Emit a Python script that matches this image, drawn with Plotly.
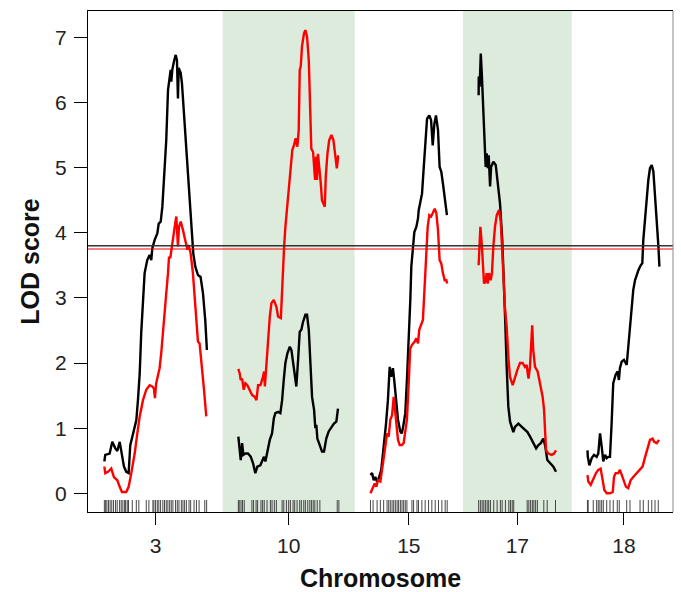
import plotly.graph_objects as go

# ---------------- data ----------------
chromosomes = ["3", "10", "15", "17", "18"]
chrom_lengths = [81.5, 80, 61, 61.5, 58]   # cM
gap = 25                                   # cM between chromosomes
shaded_chroms = ["10", "17"]
thresholds_black = 3.80
thresholds_red = 3.75

pos_black = {
    "3": [0, 0.7, 4.2, 6.3, 8.7, 10.3, 12.2, 14.0, 15.6, 17.4, 19.3, 20.6, 22.7, 25.4, 26.7, 28.1, 29.3, 30.7, 32.0, 34.1, 36.0, 37.3, 38.1, 40.0, 42.1, 43.2, 44.8, 46.1, 47.4, 49.2, 50.6, 51.9, 52.7, 53.2, 54.0, 55.3, 56.7, 57.7, 58.5, 59.1, 60.7, 61.7, 63.3, 65.1, 67.0, 69.1, 70.7, 72.3, 74.4, 76.5, 78.4, 80.2, 81.5],
    "10": [0, 0.3, 1.9, 3.0, 4.0, 5.6, 7.7, 9.9, 11.7, 13.5, 15.1, 17.5, 19.1, 20.4, 21.5, 23.1, 25.0, 26.8, 28.2, 29.4, 31.6, 33.4, 34.8, 36.1, 37.4, 39.0, 40.9, 42.2, 43.5, 44.9, 46.1, 47.5, 48.8, 50.1, 51.4, 53.3, 54.6, 56.0, 57.2, 58.6, 60.2, 61.2, 62.0, 62.8, 64.7, 66.5, 68.1, 69.9, 71.8, 73.9, 76.0, 77.9, 79.2],
    "15": [0, 1.3, 2.6, 3.9, 5.2, 6.6, 8.6, 10.5, 12.4, 13.9, 15.3, 16.5, 17.9, 18.9, 20.3, 21.9, 23.7, 25.0, 26.4, 27.7, 29.0, 30.4, 31.7, 32.5, 33.6, 34.9, 36.5, 37.8, 38.4, 39.7, 41.0, 42.4, 43.6, 45.0, 46.8, 48.2, 49.5, 50.8, 52.1, 53.7, 55.0, 56.3, 57.6, 59.5, 60.8],
    "17": [0, 0.1, 0.8, 1.7, 2.5, 3.3, 4.3, 5.6, 6.4, 7.2, 8.0, 9.1, 9.9, 11.7, 13.6, 15.2, 17.0, 18.8, 20.2, 21.2, 22.3, 23.6, 25.0, 26.3, 27.6, 28.9, 31.6, 34.3, 36.9, 38.8, 40.9, 43.0, 45.7, 47.5, 49.4, 51.4, 52.8, 54.6, 56.8, 59.4, 61.5],
    "18": [0, 0.3, 1.5, 3.4, 5.2, 7.3, 8.6, 10.0, 11.3, 12.6, 14.0, 15.3, 16.6, 17.9, 19.2, 20.5, 22.4, 24.0, 25.0, 25.8, 27.2, 29.0, 31.2, 32.4, 33.8, 35.1, 36.4, 37.8, 39.1, 40.4, 42.3, 43.6, 44.4, 45.8, 47.1, 48.4, 49.7, 51.1, 52.4, 53.7, 55.1, 56.4, 57.2],
}
lod_black = {
    "3": [0.49, 0.59, 0.61, 0.79, 0.69, 0.65, 0.79, 0.61, 0.41, 0.33, 0.31, 0.74, 0.92, 1.12, 1.43, 1.84, 2.46, 2.97, 3.38, 3.58, 3.66, 3.58, 3.76, 3.89, 3.99, 4.14, 4.17, 4.40, 4.81, 5.42, 6.19, 6.39, 6.50, 6.32, 6.50, 6.63, 6.73, 6.65, 6.06, 6.53, 6.45, 6.29, 5.83, 5.27, 4.75, 4.09, 3.68, 3.48, 3.35, 3.32, 3.07, 2.66, 2.20],
    "10": [0.87, 0.82, 0.51, 0.77, 0.59, 0.61, 0.61, 0.56, 0.46, 0.31, 0.41, 0.43, 0.49, 0.56, 0.49, 0.67, 0.82, 0.92, 1.15, 1.23, 1.25, 1.23, 1.43, 1.74, 2.00, 2.15, 2.25, 2.20, 2.00, 1.79, 1.64, 2.05, 2.48, 2.51, 2.63, 2.74, 2.74, 2.51, 2.05, 1.48, 1.28, 1.00, 1.05, 0.84, 0.74, 0.64, 0.64, 0.84, 0.95, 1.02, 1.07, 1.10, 1.30],
    "15": [0.28, 0.31, 0.20, 0.25, 0.18, 0.23, 0.36, 0.67, 1.07, 1.43, 1.94, 1.79, 1.92, 1.74, 1.43, 1.13, 0.95, 0.92, 1.07, 1.23, 1.74, 2.30, 2.97, 3.48, 3.79, 4.01, 4.09, 4.22, 4.35, 4.50, 4.60, 5.01, 5.42, 5.75, 5.80, 5.73, 5.34, 5.67, 5.80, 5.58, 5.01, 4.94, 4.76, 4.50, 4.27],
    "17": [6.11, 6.40, 6.24, 6.75, 6.45, 6.09, 5.68, 5.01, 5.22, 4.99, 5.19, 4.71, 5.01, 5.09, 5.04, 4.76, 4.45, 3.89, 3.27, 2.61, 1.94, 1.33, 1.10, 1.02, 0.94, 1.02, 1.07, 1.02, 0.97, 0.94, 0.87, 0.79, 0.69, 0.74, 0.77, 0.84, 0.74, 0.51, 0.47, 0.41, 0.33],
    "18": [0.66, 0.56, 0.43, 0.54, 0.59, 0.56, 0.61, 0.92, 0.72, 0.49, 0.59, 0.54, 0.56, 0.56, 1.07, 1.69, 1.82, 1.87, 1.74, 1.92, 2.02, 2.05, 1.97, 2.25, 2.61, 2.86, 3.12, 3.27, 3.35, 3.42, 3.50, 3.53, 3.89, 4.25, 4.55, 4.81, 4.99, 5.04, 4.94, 4.60, 4.20, 3.79, 3.48],
}
pos_red = {
    "3": [0, 0.7, 2.9, 5.5, 7.6, 10.3, 12.2, 14.0, 17.4, 19.3, 21.4, 24.1, 26.2, 28.1, 30.7, 33.3, 36.0, 38.1, 39.4, 40.2, 41.2, 42.6, 43.9, 45.2, 46.6, 47.9, 49.2, 50.6, 51.4, 52.4, 53.2, 54.5, 55.9, 57.2, 58.0, 58.5, 59.3, 60.7, 62.5, 64.4, 66.0, 67.0, 68.6, 70.4, 71.8, 73.0, 74.4, 75.7, 77.6, 79.2, 81.0],
    "10": [0, 1.1, 1.9, 3.0, 4.3, 5.6, 7.2, 9.1, 10.9, 13.1, 14.4, 15.7, 17.6, 19.2, 20.5, 21.1, 21.9, 23.1, 25.0, 26.3, 28.2, 30.3, 31.6, 33.8, 34.8, 36.4, 37.4, 39.0, 40.3, 41.7, 42.9, 44.3, 45.6, 46.9, 48.0, 48.8, 49.6, 50.6, 52.2, 53.3, 54.6, 56.0, 57.2, 58.0, 59.4, 60.2, 61.0, 61.8, 62.5, 63.3, 64.4, 65.5, 66.5, 67.6, 68.7, 69.5, 70.8, 72.2, 74.0, 75.6, 77.2, 78.3, 79.3, 80.0],
    "15": [0, 1.3, 3.4, 4.7, 6.0, 7.9, 9.8, 11.4, 13.2, 14.5, 15.8, 17.2, 18.5, 19.3, 20.6, 21.9, 23.3, 25.0, 26.4, 27.7, 29.0, 30.4, 31.6, 33.1, 35.2, 36.5, 37.8, 38.8, 40.4, 41.7, 42.8, 44.1, 45.5, 46.8, 48.2, 49.5, 51.1, 52.4, 53.7, 55.0, 56.3, 57.6, 59.0, 60.3, 61.0],
    "17": [0, 0.6, 1.4, 2.5, 3.3, 4.3, 5.4, 6.4, 7.2, 8.3, 9.6, 10.6, 11.7, 13.0, 14.4, 16.2, 17.6, 18.8, 19.9, 20.9, 22.3, 23.6, 24.9, 27.1, 28.9, 30.7, 32.9, 35.0, 36.8, 38.2, 39.0, 39.7, 40.8, 41.6, 42.6, 43.4, 44.8, 46.9, 48.8, 50.9, 52.0, 52.8, 53.6, 55.4, 58.1, 59.9, 61.5],
    "18": [0, 0.7, 2.6, 4.7, 6.8, 8.6, 10.5, 12.1, 13.4, 15.3, 17.9, 20.1, 21.1, 22.4, 24.5, 25.8, 27.2, 28.5, 30.6, 32.4, 34.3, 36.4, 39.1, 41.7, 43.8, 45.6, 47.5, 49.7, 51.8, 53.1, 55.1, 56.9],
}
lod_red = {
    "3": [0.41, 0.31, 0.33, 0.38, 0.25, 0.20, 0.10, 0.02, 0.02, 0.10, 0.31, 0.61, 0.92, 1.18, 1.43, 1.59, 1.66, 1.64, 1.61, 1.46, 1.69, 1.84, 1.92, 2.15, 2.51, 2.71, 3.07, 3.38, 3.63, 3.61, 3.74, 3.89, 4.09, 4.25, 3.99, 3.79, 4.09, 4.17, 4.04, 3.89, 3.74, 3.81, 3.68, 3.38, 2.97, 2.61, 2.33, 2.30, 1.94, 1.59, 1.18],
    "10": [1.91, 1.84, 1.74, 1.76, 1.59, 1.69, 1.66, 1.59, 1.51, 1.48, 1.43, 1.66, 1.66, 1.76, 1.87, 1.64, 1.89, 2.25, 2.71, 2.92, 2.97, 2.86, 2.71, 2.69, 3.17, 3.79, 4.09, 4.45, 4.81, 5.12, 5.27, 5.35, 5.45, 5.32, 5.58, 6.50, 6.55, 6.86, 7.06, 7.11, 7.01, 6.65, 5.98, 5.29, 5.24, 5.01, 4.81, 5.17, 4.81, 5.21, 5.01, 4.76, 4.50, 4.45, 4.40, 4.86, 5.21, 5.42, 5.50, 5.42, 5.21, 4.99, 5.17, 5.17],
    "15": [0.00, 0.05, 0.15, 0.10, 0.20, 0.18, 0.41, 0.66, 0.92, 0.87, 1.13, 1.20, 1.48, 1.33, 1.07, 0.82, 0.74, 0.74, 0.77, 0.92, 1.13, 1.69, 2.22, 2.28, 2.33, 2.38, 2.30, 2.51, 2.58, 2.66, 3.07, 3.68, 4.09, 4.27, 4.25, 4.30, 4.37, 4.30, 4.04, 3.58, 3.53, 3.38, 3.27, 3.27, 3.22],
    "17": [3.50, 3.68, 4.09, 3.83, 3.58, 3.22, 3.25, 3.38, 3.22, 3.38, 3.27, 3.38, 3.79, 4.09, 4.27, 4.35, 4.17, 3.79, 3.27, 2.86, 2.55, 2.10, 1.79, 1.66, 1.79, 1.89, 2.00, 2.00, 1.94, 1.97, 1.84, 1.76, 1.94, 2.35, 2.58, 2.20, 1.94, 1.87, 1.69, 1.48, 1.28, 0.97, 0.66, 0.61, 0.59, 0.61, 0.66],
    "18": [0.28, 0.18, 0.13, 0.23, 0.31, 0.36, 0.38, 0.20, 0.05, 0.00, 0.00, 0.02, 0.25, 0.31, 0.31, 0.36, 0.28, 0.20, 0.10, 0.08, 0.20, 0.25, 0.31, 0.36, 0.41, 0.54, 0.66, 0.82, 0.84, 0.79, 0.77, 0.82],
}
markers = {
    "3": [0, 1, 2, 3.3, 4.6, 5.9, 7.3, 8.9, 10.2, 12.1, 13.4, 14.7, 16.1, 16.9, 18.2, 19.2, 22.2, 25.4, 27.4, 33.3, 35.4, 38.6, 39.4, 40.7, 42.1, 43.3, 44.7, 46.5, 47.8, 49.2, 50.5, 51.9, 53.2, 54.5, 56.6, 58, 59.3, 61.2, 62.5, 63.8, 65.2, 67.3, 68.6, 71.3, 73.2, 75.3, 79.8, 81.3],
    "10": [0, 0.7, 2.1, 3.3, 4.7, 10.8, 12.1, 14.1, 15.3, 18, 19.3, 20.6, 22.8, 25.5, 26.8, 28.6, 30.2, 34.8, 36.1, 38.2, 40, 41.4, 43.5, 44.8, 46.7, 48.8, 50.1, 52, 53.3, 55.2, 56.8, 58.1, 59.5, 60.8, 62.7, 64.8, 78.6, 79.9],
    "15": [0, 2.1, 5.3, 7.9, 10.5, 13.2, 14.5, 15.8, 17.2, 18.5, 19.8, 21.2, 22.4, 23.8, 25.1, 26.4, 27.7, 29, 33, 34.3, 37, 38.2, 40.9, 43.5, 46.2, 48.8, 51.5, 54.1, 56.8, 59.4, 61],
    "17": [0, 1.4, 2.8, 4.1, 5.4, 6.8, 8, 9.4, 12, 14.7, 17.3, 18.7, 21.3, 24, 25.3, 26.7, 27.9, 38.6, 39.9, 41.3, 42.7, 43.9, 45.3, 46.7, 51.8, 54.5, 61.1],
    "18": [0, 0.6, 4.6, 7.3, 8.6, 9.9, 11.3, 12.6, 15.3, 17.9, 20.5, 23.7, 25.3, 31.2, 33.8, 41.8, 44.4, 48.4, 51.1, 53.7, 56.3],
}

# ---------------- layout of chromosomes on a common axis ----------------
offsets = {}
acc = 0.0
for c, L in zip(chromosomes, chrom_lengths):
    offsets[c] = acc
    acc += L + gap
total_end = acc - gap
mids = [offsets[c] + L / 2 for c, L in zip(chromosomes, chrom_lengths)]


def joined(pos, lod):
    xs, ys = [], []
    for c in chromosomes:
        xs += [offsets[c] + p for p in pos[c]] + [None]
        ys += list(lod[c]) + [None]
    return xs, ys


fig = go.Figure()

# shaded chromosomes
for c, L in zip(chromosomes, chrom_lengths):
    if c in shaded_chroms:
        fig.add_shape(type="rect", xref="x", yref="paper",
                      x0=offsets[c] - gap / 2, x1=offsets[c] + L + gap / 2,
                      y0=0, y1=1, fillcolor="#dcebdc", line_width=0, layer="below")

# threshold lines
fig.add_hline(y=thresholds_black, line=dict(color="#333333", width=1.6))
fig.add_hline(y=thresholds_red, line=dict(color="#ff0000", width=1.1))

# marker rug
rx = []
for c in chromosomes:
    rx += [offsets[c] + m for m in markers[c]]
fig.add_trace(go.Scatter(x=rx, y=[-0.2] * len(rx), mode="markers",
                         marker=dict(symbol="line-ns-open", size=9, color="#333333",
                                     line=dict(color="#333333", width=0.9)),
                         hoverinfo="skip", showlegend=False))

bx, by = joined(pos_black, lod_black)
fig.add_trace(go.Scatter(x=bx, y=by, mode="lines",
                         line=dict(color="black", width=2.4), showlegend=False))
rx2, ry2 = joined(pos_red, lod_red)
fig.add_trace(go.Scatter(x=rx2, y=ry2, mode="lines",
                         line=dict(color="#ff0000", width=2.4), showlegend=False))

# right border in grey
fig.add_shape(type="line", xref="paper", yref="paper", x0=1, x1=1, y0=0, y1=1,
              line=dict(color="#888888", width=1))

font_family = "Liberation Sans, Arial, Helvetica, sans-serif"
fig.update_layout(
    width=681, height=592,
    margin=dict(l=88, r=8, t=11, b=80),
    plot_bgcolor="white", paper_bgcolor="white",
    font=dict(family=font_family, color="#222222"),
    xaxis=dict(range=[-13, total_end + 10], tickvals=mids, ticktext=chromosomes,
               automargin=False,
               showgrid=False, zeroline=False, showline=True, mirror=True,
               linecolor="black", linewidth=1.2,
               ticks="outside", ticklen=12, tickwidth=1.2, tickcolor="black",
               tickfont=dict(size=21, color="#222222"), ticklabelstandoff=3,
               title=dict(text="<b>Chromosome</b>", font=dict(size=25, color="#111111"),
                          standoff=16)),
    yaxis=dict(range=[-0.287, 7.404], tickvals=[0, 1, 2, 3, 4, 5, 6, 7],
               automargin=False,
               showgrid=False, zeroline=False, showline=True, mirror=False,
               linecolor="black", linewidth=1.2,
               ticks="outside", ticklen=13, tickwidth=1.2, tickcolor="black",
               tickfont=dict(size=21, color="#222222"), ticklabelstandoff=3,
               title=dict(text="<b>LOD score</b>", font=dict(size=25, color="#111111"),
                          standoff=8)),
)

fig.write_html("out.html", config={"displayModeBar": False},
               post_script="document.body.style.margin='0';")
